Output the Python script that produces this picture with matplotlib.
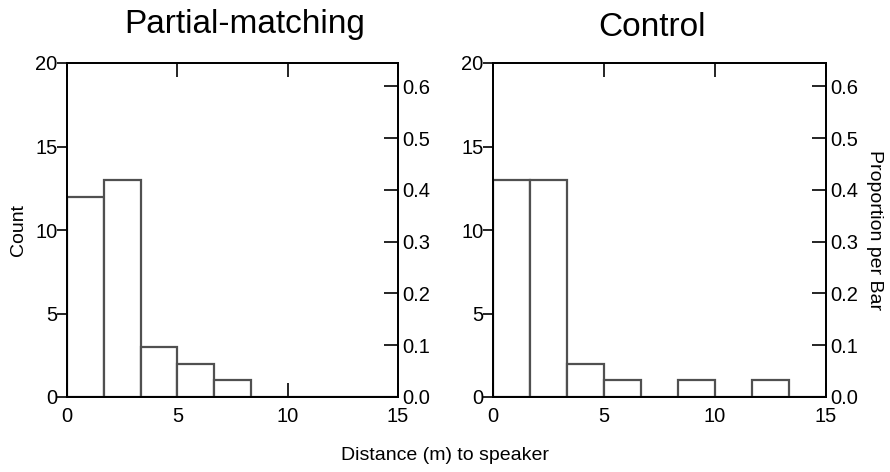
import numpy as np
import matplotlib
matplotlib.use('Agg')
import matplotlib.pyplot as plt
from matplotlib.ticker import FormatStrFormatter

plt.rcParams['font.family'] = ['Liberation Sans', 'DejaVu Sans']

# bins of width 5/3 m from 0 to 15
bin_edges = np.linspace(0, 15, 10)
counts_partial = [12, 13, 3, 2, 1, 0, 0, 0, 0]
counts_control = [13, 13, 2, 1, 0, 1, 0, 1, 0]
panel_titles = ['Partial-matching', 'Control']
n_total = 31

TICK_FS = 14.5
LABEL_FS = 14
TITLE_FS = 24

fig = plt.figure(figsize=(8.9, 4.72), dpi=100)
ax_l = fig.add_axes([67/890, 1-397/472, 331/890, 334/472])
ax_r = fig.add_axes([493/890, 1-397/472, 333/890, 334/472])


def draw_panel(ax, counts):
    widths = np.diff(bin_edges)
    ax.bar(bin_edges[:-1], counts, width=widths, align='edge', color='white',
           edgecolor='#505050', linewidth=1.6, zorder=2)
    ax.set_xlim(0, 15)
    ax.set_ylim(0, 20)
    ax.set_xticks([0, 5, 10, 15])
    ax.set_yticks([0, 5, 10, 15, 20])
    ax.tick_params(axis='x', direction='in', top=True, length=10, width=1.2,
                   labelsize=TICK_FS, pad=7, colors='black')
    ax.tick_params(axis='y', direction='out', length=7, width=1.2,
                   labelsize=TICK_FS, pad=0)
    for s in ax.spines.values():
        s.set_linewidth(1.3)
        s.set_zorder(3)
    tw = ax.twinx()
    tw.set_ylim(0, 20 / n_total)
    tw.set_yticks([0.0, 0.1, 0.2, 0.3, 0.4, 0.5, 0.6])
    tw.yaxis.set_major_formatter(FormatStrFormatter('%.1f'))
    tw.tick_params(axis='y', direction='in', length=10, width=1.2,
                   labelsize=TICK_FS, pad=3)
    for s in tw.spines.values():
        s.set_linewidth(1.3)
    return tw


draw_panel(ax_l, counts_partial)
tw_r = draw_panel(ax_r, counts_control)

ax_l.set_ylabel('Count', fontsize=LABEL_FS, labelpad=6)
tw_r.set_ylabel('Proportion per Bar', fontsize=LABEL_FS, rotation=270, labelpad=18)

fig.text(245/890, 1-25/472, panel_titles[0], fontsize=TITLE_FS, ha='center', va='center')
fig.text(652/890, 1-27/472, panel_titles[1], fontsize=TITLE_FS, ha='center', va='center')
fig.text(445/890, 1-456/472, 'Distance (m) to speaker', fontsize=LABEL_FS, ha='center', va='center')

fig.savefig('out.png', dpi=100, facecolor='white')
